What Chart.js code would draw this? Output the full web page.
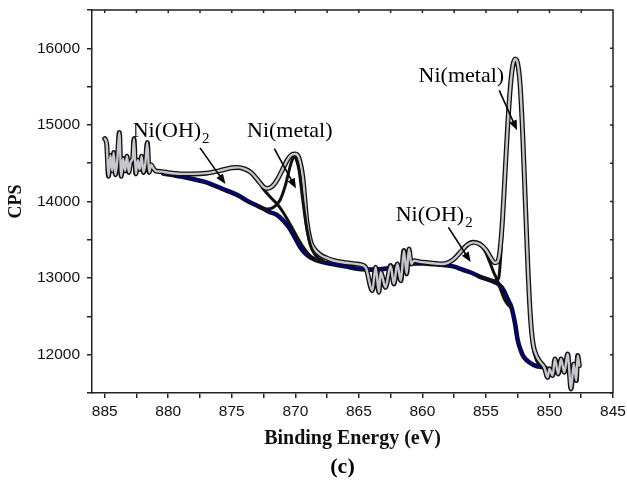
<!DOCTYPE html>
<html>
<head>
<meta charset="utf-8">
<script src="https://cdn.jsdelivr.net/npm/chart.js@4.4.1/dist/chart.umd.min.js"></script>
<style>
  html, body { margin: 0; padding: 0; background: #fff; }
  canvas { display: block; }
</style>
</head>
<body>
<canvas id="xps" width="627" height="491"></canvas>
<script>
// Ni 2p region: binding energy (eV) against counts per second

// measured spectrum with fitted envelope
const spectrumEnergy = [
  885.0, 884.85, 884.7, 884.55, 884.4, 884.3, 884.15, 884.0, 883.85, 883.7,
  883.55, 883.4, 883.25, 883.1, 882.95, 882.8, 882.7, 882.55, 882.4, 882.25,
  882.1, 881.95, 881.8, 881.65, 881.5, 881.35, 881.2, 881.0,
  880.5, 880.0, 879.0, 878.0, 877.0, 876.0, 875.0, 874.5, 874.0, 873.5,
  873.0, 872.5, 872.2, 871.8, 871.4, 871.0, 870.6, 870.3, 870.0, 869.7,
  869.4, 869.1, 868.8, 868.5, 868.0, 867.5, 867.0, 866.0, 865.0, 864.47,
  863.94, 863.68, 863.42, 863.29, 862.9, 862.5, 862.24, 861.97, 861.7, 861.45,
  861.24, 861.06, 860.87, 860.66,
  860.3, 859.5, 858.5, 858.0, 857.5, 857.0, 856.5, 856.0, 855.5, 855.0,
  854.6, 854.3, 854.1, 853.9, 853.7, 853.5, 853.3, 853.1, 852.9, 852.7,
  852.5, 852.3, 852.1, 851.9, 851.7, 851.5, 851.3, 851.0, 850.7,
  850.41, 850.14, 850.01, 849.75, 849.57, 849.31, 849.09, 848.83, 848.57, 848.3,
  848.09, 847.89, 847.78, 847.65
];
const spectrumCps = [
  14820, 14760, 14330, 14600, 14400, 14640, 14350, 14560, 14900, 14330,
  14560, 14400, 14590, 14380, 14520, 14560, 14820, 14360, 14540, 14420,
  14590, 14380, 14500, 14770, 14380, 14480, 14440, 14400,
  14390, 14375, 14360, 14360, 14370, 14400, 14440, 14445, 14425, 14380,
  14290, 14190, 14170, 14200, 14290, 14420, 14550, 14610, 14620, 14560,
  14300, 13750, 13480, 13380, 13300, 13260, 13230, 13200, 13180, 13141,
  12837, 13141, 12815, 13076, 12880, 13163, 12924, 13185, 12967, 13359,
  13055, 13381, 13185, 13228,
  13215, 13200, 13185, 13200, 13250, 13340, 13430, 13467, 13445, 13370,
  13260, 13200, 13210, 13350, 13750, 14350, 14950, 15450, 15760, 15860,
  15800, 15500, 14850, 14000, 13150, 12500, 12150, 11980, 11900,
  11836, 11705, 11815, 11727, 11945, 11749, 11945, 11770, 12010, 11553,
  11880, 11662, 11988, 11858
];

// Shirley-type background
const backgroundEnergy = [
  880.4, 879.0, 878.0, 877.0, 876.4, 875.5, 874.5, 873.8, 873.0, 872.5,
  872.0, 871.5, 871.0, 870.5, 870.0, 869.6, 869.2, 868.8, 868.0, 867.0,
  866.0, 865.0, 864.0, 863.0, 862.0, 861.0, 860.0, 859.0, 858.0, 857.5,
  857.0, 856.5, 856.0, 855.5, 855.0, 854.5, 854.0, 853.6, 853.3, 853.0,
  852.7, 852.5, 852.2, 852.0, 851.5, 851.0, 850.6, 850.3
];
const backgroundCps = [
  14365, 14325, 14290, 14250, 14210, 14150, 14080, 14010, 13945, 13905,
  13860, 13830, 13760, 13660, 13520, 13400, 13320, 13270, 13215, 13180,
  13150, 13120, 13110, 13120, 13150, 13190, 13190, 13180, 13165, 13150,
  13120, 13090, 13060, 13020, 12990, 12960, 12920, 12840, 12730, 12620,
  12400, 12190, 12030, 11965, 11890, 11850, 11840, 11830
];

// fitted components (each sits on the background)
const metal2p12Energy = [872.9, 872.4, 872.0, 871.6, 871.2, 870.8, 870.5, 870.3, 870.1, 869.9, 869.7, 869.4, 869.1, 868.8, 868.5, 868.2, 867.8];
const metal2p12Cps    = [13935, 13900, 13905, 13940, 14020, 14200, 14400, 14520, 14580, 14540, 14400, 14000, 13650, 13420, 13320, 13260, 13220];

const hydroxide2p12Energy = [872.6, 872.2, 871.8, 871.4, 871.0, 870.6, 870.2, 869.8, 869.4, 869.0, 868.6, 868.2];
const hydroxide2p12Cps    = [14180, 14100, 14030, 13960, 13870, 13760, 13640, 13520, 13410, 13320, 13260, 13225];

const metal2p32Energy = [855.5, 855.0, 854.6, 854.3, 854.0, 853.85, 853.7, 853.5, 853.3, 853.1, 852.9, 852.7, 852.5, 852.3, 852.1, 851.9, 851.7, 851.5, 851.3, 851.0, 850.6];
const metal2p32Cps    = [13020, 12995, 12975, 12965, 13000, 13250, 13700, 14400, 15050, 15520, 15800, 15850, 15780, 15480, 14800, 13950, 13100, 12450, 12100, 11920, 11850];

const hydroxide2p32Energy = [855.3, 855.0, 854.7, 854.4, 854.1, 853.8, 853.5, 853.2, 853.0];
const hydroxide2p32Cps    = [13415, 13330, 13210, 13080, 12970, 12830, 12710, 12640, 12620];

// x tick marks every 2.5 eV, labelled every 5 eV; y every 500, labelled every 1000
const energyRange = [845, 886];
const cpsRange = [11500, 16500];

// peak labels and their arrows, in data units
const peakLabels = [
  { text: 'Ni(OH)', sub: '2', at: [882.8, 14838], arrow: [877.5, 14700, 875.5, 14230] },
  { text: 'Ni(metal)', sub: '', at: [873.8, 14838], arrow: [871.65, 14690, 869.95, 14170] },
  { text: 'Ni(metal)', sub: '', at: [860.3, 15556], arrow: [853.95, 15450, 852.55, 14930] },
  { text: 'Ni(OH)', sub: '2', at: [862.1, 13751], arrow: [857.95, 13663, 856.2, 13210] }
];

const pairs = (xs, ys) => xs.map((x, i) => ({ x: x, y: ys[i] }));

function line(data, color, width, order) {
  return {
    data: data,
    borderColor: color,
    borderWidth: width,
    pointRadius: 0,
    fill: false,
    cubicInterpolationMode: 'monotone',
    order: order,
    borderCapStyle: 'round',
    borderJoinStyle: 'round'
  };
}

const spectrum = pairs(spectrumEnergy, spectrumCps);
const background = pairs(backgroundEnergy, backgroundCps);

const datasets = [
  line(pairs(metal2p12Energy, metal2p12Cps), '#111', 3, 0),
  line(spectrum, '#c6c6cc', 2.4, 1),
  line(spectrum, '#111', 5, 2),
  line(pairs(hydroxide2p12Energy, hydroxide2p12Cps), '#111', 3, 3),
  line(pairs(metal2p32Energy, metal2p32Cps), '#111', 3, 3),
  line(pairs(hydroxide2p32Energy, hydroxide2p32Cps), '#111', 3, 3),
  line(background, '#000080', 2.6, 4),
  line(background, '#111', 4.6, 5)
];

const axisColor = '#222';

// closes the frame on top/right and writes peak labels, arrows and panel tag
const decorations = {
  id: 'decorations',
  afterDraw(chart) {
    const { ctx, chartArea: a, scales: { x, y } } = chart;
    ctx.save();
    ctx.strokeStyle = axisColor;
    ctx.lineWidth = 1.5;
    ctx.beginPath();
    ctx.moveTo(a.left, a.top);
    ctx.lineTo(a.right, a.top);
    ctx.lineTo(a.right, a.bottom);
    x.ticks.forEach(t => {
      const px = x.getPixelForValue(t.value);
      ctx.moveTo(px, a.top);
      ctx.lineTo(px, a.top + 3);
    });
    y.ticks.forEach(t => {
      const py = y.getPixelForValue(t.value);
      ctx.moveTo(a.right, py);
      ctx.lineTo(a.right - 3, py);
    });
    ctx.stroke();

    ctx.fillStyle = '#000';
    ctx.strokeStyle = '#000';
    peakLabels.forEach(l => {
      const tx = x.getPixelForValue(l.at[0]);
      const ty = y.getPixelForValue(l.at[1]);
      ctx.textAlign = 'left';
      ctx.textBaseline = 'alphabetic';
      ctx.font = '22px "Liberation Serif"';
      ctx.fillText(l.text, tx, ty);
      if (l.sub) {
        const w = ctx.measureText(l.text).width;
        ctx.font = '15px "Liberation Serif"';
        ctx.fillText(l.sub, tx + w + 1, ty + 6);
      }
      const x1 = x.getPixelForValue(l.arrow[0]), y1 = y.getPixelForValue(l.arrow[1]);
      const x2 = x.getPixelForValue(l.arrow[2]), y2 = y.getPixelForValue(l.arrow[3]);
      const ang = Math.atan2(y2 - y1, x2 - x1);
      const head = 10;
      ctx.lineWidth = 1.6;
      ctx.beginPath();
      ctx.moveTo(x1, y1);
      ctx.lineTo(x2 - Math.cos(ang) * head * 0.8, y2 - Math.sin(ang) * head * 0.8);
      ctx.stroke();
      ctx.beginPath();
      ctx.moveTo(x2, y2);
      ctx.lineTo(x2 - head * Math.cos(ang) + 4 * Math.sin(ang), y2 - head * Math.sin(ang) - 4 * Math.cos(ang));
      ctx.lineTo(x2 - head * Math.cos(ang) - 4 * Math.sin(ang), y2 - head * Math.sin(ang) + 4 * Math.cos(ang));
      ctx.closePath();
      ctx.fill();
    });

    ctx.font = 'bold 22px "Liberation Serif"';
    ctx.textAlign = 'center';
    ctx.textBaseline = 'middle';
    ctx.fillText('(c)', (a.left + a.right) / 2 - 10, 467);
    ctx.restore();
  }
};

const ctx = document.getElementById('xps').getContext('2d');

const chart = new Chart(ctx, {
  type: 'line',
  data: { datasets: datasets },
  options: {
    responsive: false,
    animation: false,
    events: [],
    layout: { padding: { left: 0, right: 14, top: 10, bottom: 32 } },
    plugins: {
      legend: { display: false },
      tooltip: { enabled: false }
    },
    scales: {
      x: {
        type: 'linear',
        reverse: true,
        min: energyRange[0],
        max: energyRange[1],
        afterFit: s => { s.height = 66; s.paddingLeft = 0; s.paddingRight = 0; },
        border: { display: true, color: axisColor, width: 1.5 },
        grid: { drawOnChartArea: false, drawTicks: true, tickLength: 5, color: axisColor, lineWidth: 1.5 },
        ticks: {
          stepSize: 2.5,
          includeBounds: false,
          autoSkip: false,
          maxRotation: 0,
          padding: 4,
          color: '#111',
          font: { family: '"Liberation Sans"', size: 15.5 },
          callback: v => (v % 5 === 0 ? String(v) : '')
        },
        title: {
          display: true,
          text: 'Binding Energy (eV)',
          color: '#111',
          font: { family: '"Liberation Serif"', size: 20, weight: 'bold' },
          padding: { top: 0, bottom: 8 }
        }
      },
      y: {
        type: 'linear',
        min: cpsRange[0],
        max: cpsRange[1],
        afterFit: s => { s.width = 92; s.paddingTop = 0; s.paddingBottom = 0; },
        border: { display: true, color: axisColor, width: 1.5 },
        grid: { drawOnChartArea: false, drawTicks: true, tickLength: 5, color: axisColor, lineWidth: 1.5 },
        ticks: {
          stepSize: 500,
          autoSkip: false,
          padding: 7,
          color: '#111',
          font: { family: '"Liberation Sans"', size: 15.5 },
          callback: v => (v % 1000 === 0 ? String(v) : '')
        },
        title: {
          display: true,
          text: 'CPS',
          color: '#111',
          font: { family: '"Liberation Serif"', size: 18, weight: 'bold' },
          padding: { top: 6, bottom: 0 }
        }
      }
    }
  },
  plugins: [decorations]
});
</script>
</body>
</html>
